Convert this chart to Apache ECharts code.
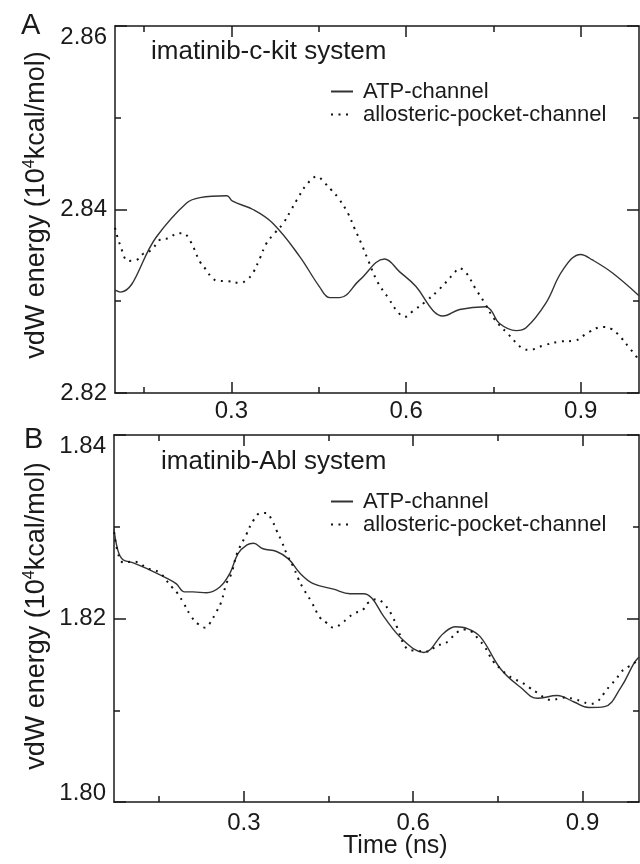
<!DOCTYPE html>
<html lang="en">
  <head>
    <meta charset="utf-8" />
    <script src="https://cdn.jsdelivr.net/npm/echarts@6/dist/echarts.min.js"></script>
  </head>
  <body style="margin: 0">
    <div id="container" style="width: 640px; height: 864px"></div>
    <script type="text/javascript">
      // tick values
      const majorX = [0.3, 0.6, 0.9];
      const minorX = [0.15, 0.45, 0.75];

      // panel A: imatinib-c-kit
      const atpTimeA = [0.100, 0.109, 0.171, 0.223, 0.246, 0.292, 0.302, 0.337, 0.371, 0.417, 0.451, 0.469, 0.486, 0.520, 0.563, 0.589, 0.617, 0.646, 0.663, 0.692, 0.737, 0.746, 0.760, 0.789, 0.806, 0.840, 0.869, 0.900, 0.920, 0.954, 1.000];
      const atpValA = [2.8312, 2.8310, 2.8370, 2.8407, 2.8413, 2.8415, 2.8409, 2.8400, 2.8385, 2.8349, 2.8316, 2.8304, 2.8304, 2.8323, 2.8346, 2.8332, 2.8316, 2.8290, 2.8284, 2.8291, 2.8294, 2.8290, 2.8276, 2.8268, 2.8271, 2.8298, 2.8334, 2.8351, 2.8345, 2.8331, 2.8306];
      const alloTimeA = [0.100, 0.109, 0.123, 0.137, 0.149, 0.163, 0.177, 0.194, 0.206, 0.217, 0.229, 0.246, 0.257, 0.266, 0.277, 0.292, 0.314, 0.326, 0.337, 0.349, 0.360, 0.374, 0.389, 0.403, 0.412, 0.429, 0.447, 0.460, 0.472, 0.483, 0.500, 0.511, 0.523, 0.534, 0.551, 0.569, 0.586, 0.598, 0.611, 0.634, 0.657, 0.683, 0.691, 0.703, 0.719, 0.736, 0.751, 0.774, 0.799, 0.811, 0.837, 0.863, 0.889, 0.913, 0.938, 0.952, 0.964, 0.985, 1.000];
      const alloValA = [2.8380, 2.8361, 2.8344, 2.8345, 2.8352, 2.8356, 2.8367, 2.8369, 2.8374, 2.8374, 2.8366, 2.8343, 2.8334, 2.8326, 2.8322, 2.8322, 2.8320, 2.8323, 2.8331, 2.8347, 2.8363, 2.8374, 2.8385, 2.8400, 2.8410, 2.8427, 2.8436, 2.8429, 2.8421, 2.8413, 2.8396, 2.8380, 2.8363, 2.8346, 2.8321, 2.8304, 2.8288, 2.8283, 2.8289, 2.8300, 2.8313, 2.8331, 2.8336, 2.8331, 2.8314, 2.8297, 2.8281, 2.8265, 2.8249, 2.8247, 2.8252, 2.8256, 2.8257, 2.8266, 2.8272, 2.8270, 2.8264, 2.8248, 2.8236];

      // panel B: imatinib-Abl
      const atpTimeB = [0.070, 0.077, 0.086, 0.103, 0.133, 0.163, 0.180, 0.195, 0.210, 0.234, 0.257, 0.275, 0.290, 0.305, 0.317, 0.334, 0.358, 0.379, 0.400, 0.423, 0.459, 0.488, 0.512, 0.527, 0.548, 0.583, 0.619, 0.654, 0.675, 0.696, 0.719, 0.755, 0.790, 0.820, 0.855, 0.885, 0.911, 0.939, 0.968, 0.991, 1.000];
      const atpValB = [1.8298, 1.8274, 1.8264, 1.8261, 1.8253, 1.8244, 1.8238, 1.8229, 1.8229, 1.8228, 1.8234, 1.8249, 1.8271, 1.8280, 1.8282, 1.8276, 1.8273, 1.8265, 1.8249, 1.8238, 1.8232, 1.8227, 1.8227, 1.8222, 1.8202, 1.8176, 1.8163, 1.8184, 1.8191, 1.8189, 1.8180, 1.8145, 1.8125, 1.8113, 1.8116, 1.8109, 1.8103, 1.8104, 1.8125, 1.8151, 1.8158];
      const alloTimeB = [0.070, 0.079, 0.087, 0.100, 0.114, 0.127, 0.140, 0.153, 0.162, 0.173, 0.183, 0.193, 0.207, 0.219, 0.232, 0.239, 0.251, 0.260, 0.269, 0.278, 0.288, 0.304, 0.317, 0.330, 0.340, 0.349, 0.358, 0.367, 0.377, 0.388, 0.396, 0.405, 0.420, 0.435, 0.447, 0.459, 0.474, 0.485, 0.497, 0.510, 0.520, 0.535, 0.548, 0.562, 0.571, 0.589, 0.603, 0.628, 0.642, 0.654, 0.666, 0.678, 0.690, 0.705, 0.716, 0.726, 0.734, 0.742, 0.755, 0.766, 0.779, 0.793, 0.805, 0.820, 0.832, 0.845, 0.859, 0.872, 0.885, 0.898, 0.912, 0.925, 0.939, 0.950, 0.959, 0.967, 0.980, 0.991, 0.997];
      const alloValB = [1.8294, 1.8267, 1.8261, 1.8262, 1.8261, 1.8255, 1.8253, 1.8249, 1.8242, 1.8234, 1.8227, 1.8217, 1.8202, 1.8194, 1.8190, 1.8194, 1.8207, 1.8218, 1.8238, 1.8249, 1.8271, 1.8291, 1.8307, 1.8315, 1.8315, 1.8308, 1.8296, 1.8284, 1.8269, 1.8256, 1.8244, 1.8233, 1.8218, 1.8201, 1.8195, 1.8190, 1.8195, 1.8201, 1.8206, 1.8209, 1.8217, 1.8221, 1.8216, 1.8204, 1.8191, 1.8167, 1.8165, 1.8164, 1.8171, 1.8172, 1.8178, 1.8185, 1.8188, 1.8185, 1.8177, 1.8170, 1.8161, 1.8153, 1.8145, 1.8139, 1.8134, 1.8130, 1.8125, 1.8119, 1.8114, 1.8111, 1.8113, 1.8114, 1.8112, 1.8110, 1.8107, 1.8109, 1.8119, 1.8128, 1.8133, 1.8141, 1.8147, 1.8151, 1.8155];

      function pairs(ts, vs) {
        return ts.map(function (t, i) { return [t, vs[i]]; });
      }

      var dom = document.getElementById("container");
      var myChart = echarts.init(dom, null, { renderer: "canvas" });

      const ink = "#1a1a1a";
      const font = "Liberation Sans, Arial, sans-serif";
      const solidStyle = { color: "#333", width: 1.4 };
      const dotStyle = { color: "#111", width: 2, type: [2, 5.5] };

      function xAxes(grid, min, labelMargin) {
        const base = {
          type: "value", gridIndex: grid, min: min, max: 1.0,
          splitLine: { show: false },
          axisLine: { show: true, lineStyle: { color: ink, width: 1.5 } },
        };
        return [
          Object.assign({}, base, {
            position: "bottom",
            axisTick: { inside: true, length: 11, customValues: majorX, lineStyle: { color: ink, width: 1.5 } },
            axisLabel: {
              customValues: majorX, margin: labelMargin, color: ink, fontSize: 24, fontFamily: font,
              formatter: function (v) { return v.toFixed(1); },
            },
          }),
          Object.assign({}, base, {
            position: "bottom", axisLine: { show: false },
            axisTick: { inside: true, length: 6, customValues: minorX, lineStyle: { color: ink, width: 1.5 } },
            axisLabel: { show: false },
          }),
          Object.assign({}, base, {
            position: "top",
            axisTick: { inside: true, length: 11, customValues: majorX, lineStyle: { color: ink, width: 1.5 } },
            axisLabel: { show: false },
          }),
          Object.assign({}, base, {
            position: "top", axisLine: { show: false },
            axisTick: { inside: true, length: 6, customValues: minorX, lineStyle: { color: ink, width: 1.5 } },
            axisLabel: { show: false },
          }),
        ];
      }

      function yAxes(grid, min, max, shiftMin) {
        const base = {
          type: "value", gridIndex: grid, min: min, max: max, interval: 0.02,
          splitLine: { show: false },
          axisLine: { show: true, lineStyle: { color: ink, width: 1.5 } },
          axisTick: { inside: true, length: 12, lineStyle: { color: ink, width: 1.5 } },
          minorTick: { show: true, splitNumber: 2, length: 6, lineStyle: { color: ink, width: 1.5 } },
        };
        const lab = { fontSize: 24, fontFamily: font, color: ink };
        return [
          Object.assign({}, base, {
            position: "left",
            axisLabel: {
              margin: 8, color: ink, fontSize: 24, fontFamily: font,
              rich: {
                top: Object.assign({ padding: [22, 0, 0, 0] }, lab),
                bot: Object.assign({ padding: [0, 0, 18, 0] }, lab),
              },
              formatter: function (v) {
                const s = v.toFixed(2);
                if (Math.abs(v - max) < 1e-6) return "{top|" + s + "}";
                if (shiftMin && Math.abs(v - min) < 1e-6) return "{bot|" + s + "}";
                return s;
              },
            },
          }),
          Object.assign({}, base, { position: "right", axisLabel: { show: false } }),
        ];
      }

      // rotated y-axis title with superscript
      function yTitle(cy) {
        return {
          type: "text", x: 37, y: cy, rotation: Math.PI / 2,
          style: {
            text: "{a|vdW energy (10}{s|4}{a|kcal/mol)}",
            align: "center", verticalAlign: "middle",
            rich: {
              a: { fontSize: 27, fontFamily: font, fill: ink, lineHeight: 30 },
              s: { fontSize: 16, fontFamily: font, fill: ink, lineHeight: 14, verticalAlign: "top" },
            },
          },
        };
      }

      const titleStyle = { fontSize: 26, fontWeight: "normal", color: ink, fontFamily: font };
      const legendBase = {
        orient: "vertical", left: 330, padding: 0, itemGap: 0,
        itemWidth: 22, itemHeight: 14,
        data: ["ATP-channel", "allosteric-pocket-channel"],
        itemStyle: { opacity: 0 },
        textStyle: { fontSize: 22, lineHeight: 23, color: ink, fontFamily: font, padding: [0, 0, 0, 5] },
      };

      var option = {
        animation: false,
        backgroundColor: "#fff",
        title: [
          { text: "A", left: 21, top: 11, padding: 0, textStyle: Object.assign({}, titleStyle, { fontSize: 29 }) },
          { text: "B", left: 24, top: 425, padding: 0, textStyle: Object.assign({}, titleStyle, { fontSize: 29 }) },
          { text: "imatinib-c-kit system", left: 151, top: 39, padding: 0, textStyle: titleStyle },
          { text: "imatinib-Abl system", left: 161, top: 449, padding: 0, textStyle: titleStyle },
          { text: "Time (ns)", left: 343, top: 834, padding: 0, textStyle: Object.assign({}, titleStyle, { fontSize: 25 }) },
        ],
        graphic: [yTitle(205), yTitle(616)],
        legend: [
          Object.assign({}, legendBase, { top: 80 }),
          Object.assign({}, legendBase, { top: 490 }),
        ],
        grid: [
          { left: 115, top: 26, right: 1, height: 367 },
          { left: 114, top: 435, right: 1, height: 367 },
        ],
        xAxis: xAxes(0, 0.1, 6).concat(xAxes(1, 0.07, 9)),
        yAxis: yAxes(0, 2.82, 2.86, false).concat(yAxes(1, 1.80, 1.84, true)),
        series: [
          { name: "ATP-channel", type: "line", xAxisIndex: 0, yAxisIndex: 0, data: pairs(atpTimeA, atpValA), symbol: "none", smooth: 0.4, lineStyle: solidStyle, itemStyle: { color: "#333" }, z: 3 },
          { name: "allosteric-pocket-channel", type: "line", xAxisIndex: 0, yAxisIndex: 0, data: pairs(alloTimeA, alloValA), symbol: "none", smooth: 0.4, lineStyle: dotStyle, itemStyle: { color: "#111" } },
          { name: "ATP-channel", type: "line", xAxisIndex: 4, yAxisIndex: 2, data: pairs(atpTimeB, atpValB), symbol: "none", smooth: 0.4, lineStyle: solidStyle, itemStyle: { color: "#333" }, z: 3 },
          { name: "allosteric-pocket-channel", type: "line", xAxisIndex: 4, yAxisIndex: 2, data: pairs(alloTimeB, alloValB), symbol: "none", smooth: 0.4, lineStyle: dotStyle, itemStyle: { color: "#111" } },
        ],
      };

      myChart.setOption(option);
      window.addEventListener("resize", myChart.resize);
    </script>
  </body>
</html>
